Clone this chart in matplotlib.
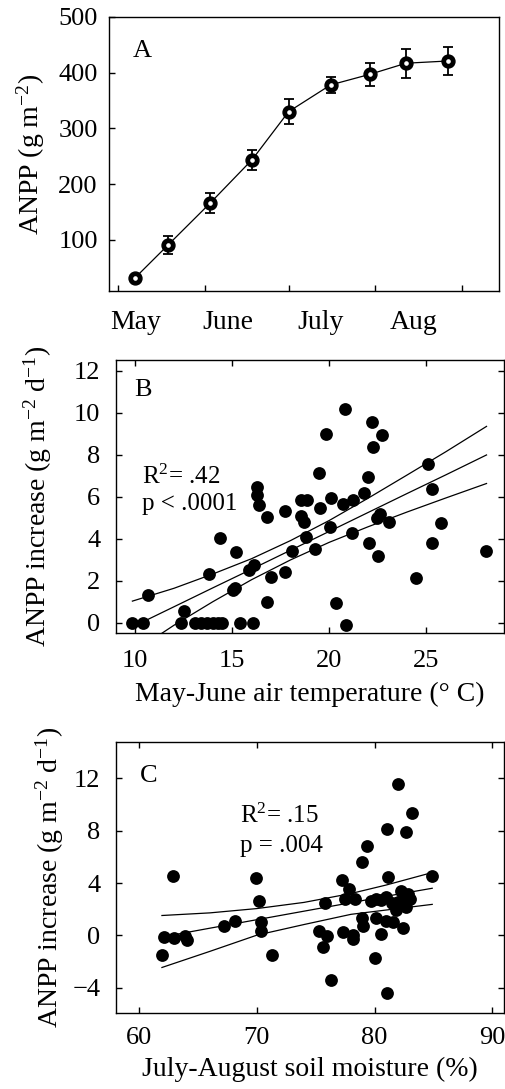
import matplotlib
matplotlib.use("Agg")
import matplotlib.pyplot as plt

plt.rcParams['font.family'] = ['Liberation Serif', 'DejaVu Serif']
plt.rcParams['mathtext.fontset'] = 'custom'
plt.rcParams['mathtext.rm'] = 'Liberation Serif'
plt.rcParams['mathtext.it'] = 'Liberation Serif:italic'

# panel A: seasonal ANPP (day of year)
day_a = [127, 139, 154, 169, 182, 197, 211, 224, 239]
anpp_a = [31, 91, 166, 244, 330, 378, 397, 417, 421]
err_a = [5, 16, 18, 18, 22, 14, 21, 26, 26]
month_start = [121, 152, 182, 213, 244]
month_names = ["May", "June", "July", "Aug"]

# panel B: May-June air temperature vs ANPP increase
temp_b = [9.86, 10.43, 10.65, 12.35, 12.52, 13.1, 13.4, 13.7, 14.0, 14.25,
          14.5, 13.83, 14.35, 15.03, 15.16, 15.2, 15.4, 15.85, 16.13, 16.05,
          16.27, 16.27, 16.39, 16.78, 16.78, 16.99, 17.7, 17.7, 18.06, 18.52,
          18.86, 18.55, 18.69, 18.78, 19.29, 19.46, 19.54, 19.83, 20.09, 20.05,
          20.34, 20.69, 20.79, 20.87, 21.2, 21.16, 21.79, 22.01, 22.05, 22.22,
          22.27, 22.44, 22.61, 22.53, 22.73, 23.07, 24.45, 25.08, 25.29, 25.3,
          25.76, 28.06]
anpp_b = [0, 0, 1.29, 0, 0.56, 0, 0, 0, 0, 0,
          0, 2.32, 4.01, 1.54, 1.65, 3.34, 0, 2.5, 2.75, 0,
          6.47, 6.05, 5.6, 5.01, 0.99, 2.18, 2.42, 5.31, 3.4, 5.82,
          5.82, 5.09, 4.77, 4.09, 3.5, 7.11, 5.47, 8.97, 5.92, 4.53,
          0.94, 5.65, 10.17, -0.1, 5.83, 4.25, 6.16, 6.95, 3.77, 9.55,
          8.38, 5.0, 5.15, 3.16, 8.94, 4.8, 2.1, 7.56, 6.36, 3.8,
          4.76, 3.4]
# fitted line and confidence band
fit_x_b = [9.86, 12, 14, 16, 18, 20, 22, 24, 26, 28.1]
fit_b = [-0.21, 0.75, 1.65, 2.54, 3.44, 4.34, 5.24, 6.14, 7.03, 7.98]
upper_b = [1.02, 1.63, 2.31, 3.04, 3.90, 4.86, 5.92, 7.02, 8.13, 9.34]
lower_b = [-1.44, -0.13, 0.99, 2.04, 2.98, 3.82, 4.56, 5.26, 5.93, 6.62]

# panel C: July-August soil moisture vs ANPP increase
moist_c = [61.92, 62.07, 62.83, 62.92, 63.85, 64.1, 67.22, 68.15, 69.93, 70.19,
           70.33, 70.33, 71.32, 75.31, 75.79, 76.0, 75.65, 76.27, 77.21, 77.86,
           77.49, 78.34, 77.35, 78.14, 78.14, 78.96, 79.33, 78.96, 79.05, 79.67,
           80.12, 80.1, 80.04, 80.52, 80.55, 80.97, 81.17, 81.09, 81.96, 81.03,
           80.97, 81.6, 81.45, 81.82, 81.96, 82.24, 82.5, 82.38, 82.67, 82.78,
           83.0, 83.15, 84.91, 82.7, 82.86]
anpp_c = [-1.48, -0.1, 4.57, -0.23, -0.05, -0.36, 0.71, 1.1, 4.42, 2.66,
          1.05, 0.33, -1.48, 0.33, 2.45, -0.03, -0.87, -3.37, 4.24, 3.55,
          2.78, 2.78, 0.23, 0.03, -0.3, 5.57, 6.79, 1.3, 0.71, 2.63,
          2.76, 1.3, -1.71, 0.08, 2.7, 2.96, 4.49, 8.12, 11.59, -4.39,
          1.1, 1.05, 2.45, 1.94, 2.58, 3.42, 2.4, 0.54, 7.86, 3.09,
          2.76, 9.34, 4.57, 2.2, 3.2]
fit_x_c = [61.93, 66, 70, 74, 78, 81, 84.9]
fit_c = [-0.12, 0.55, 1.2, 1.85, 2.5, 2.99, 3.6]
upper_c = [1.52, 1.72, 2.05, 2.52, 3.2, 3.85, 4.8]
lower_c = [-2.45, -1.22, 0.02, 0.83, 1.61, 1.94, 2.37]

fig = plt.figure(figsize=(5.05, 10.89), dpi=100)

TICK = 19
LAB = 20

def style(ax, allsides=True, ypad=11, xpad=12):
    for s in ax.spines.values():
        s.set_linewidth(1.0)
    ax.tick_params(direction='in', length=4, width=1, labelsize=TICK,
                   top=allsides, right=allsides)
    ax.tick_params(axis='y', pad=ypad)
    ax.tick_params(axis='x', pad=xpad)

# ---- A
axA = fig.add_axes([0.2158, 0.7328, 0.7723, 0.2516])
axA.plot(day_a, anpp_a, color='black', lw=0.9, zorder=2)
axA.errorbar(day_a, anpp_a, yerr=err_a, fmt='none', ecolor='black',
             elinewidth=1.3, capsize=3.5, capthick=1.3, zorder=3)
axA.plot(day_a, anpp_a, 'o', color='black', ms=9.3, zorder=4)
axA.plot(day_a, anpp_a, 'o', color='white', ms=2.3, zorder=5)
axA.set_xlim(117.8, 257.2)
axA.set_ylim(8, 500)
axA.set_yticks([100, 200, 300, 400, 500])
axA.set_xticks(month_start)
axA.set_xticklabels([])
label_days = [127.4, 160.3, 193.6, 226.8]
axA.set_xticks(label_days, minor=True)
axA.set_xticklabels(month_names, minor=True, fontsize=LAB)
style(axA, allsides=False, ypad=8)
axA.tick_params(axis='x', which='minor', length=0, pad=14)
axA.text(0.0615, 0.854, "A", transform=axA.transAxes, fontsize=19)
axA.text(-0.2, 0.5, "ANPP (g m$^{-2}$)", transform=axA.transAxes,
         rotation=90, ha='center', va='center', fontsize=LAB)

# ---- B
axB = fig.add_axes([0.2291, 0.4187, 0.7689, 0.2507])
axB.scatter(temp_b, anpp_b, s=85, color='black', zorder=3, linewidths=0)
axB.plot(fit_x_b, fit_b, color='black', lw=0.9)
axB.plot(fit_x_b, upper_b, color='black', lw=0.9)
axB.plot(fit_x_b, lower_b, color='black', lw=0.9)
axB.set_xlim(9, 29)
axB.set_ylim(-0.5, 12.5)
axB.set_xticks([10, 15, 20, 25])
axB.set_yticks([0, 2, 4, 6, 8, 10, 12])
style(axB, ypad=11, xpad=12)
axB.text(0.047, 0.868, "B", transform=axB.transAxes, fontsize=19)
axB.text(10.34, 6.6, "R$^2$= .42", fontsize=18)
axB.text(10.34, 5.36, "p < .0001", fontsize=18)
axB.set_xlabel("May-June air temperature (\u00b0 C)", fontsize=LAB)
axB.xaxis.set_label_coords(0.5, -0.18)
axB.text(-0.2, 0.5, "ANPP increase (g m$^{-2}$ d$^{-1}$)", transform=axB.transAxes,
         rotation=90, ha='center', va='center', fontsize=LAB)

# ---- C
axC = fig.add_axes([0.2291, 0.0701, 0.7689, 0.2489])
axC.scatter(moist_c, anpp_c, s=85, color='black', zorder=3, linewidths=0)
axC.plot(fit_x_c, fit_c, color='black', lw=0.9)
axC.plot(fit_x_c, upper_c, color='black', lw=0.9)
axC.plot(fit_x_c, lower_c, color='black', lw=0.9)
axC.set_xlim(58, 91)
axC.set_ylim(-5.9, 14.8)
axC.set_xticks([60, 70, 80, 90])
axC.set_yticks([-4, 0, 4, 8, 12])
style(axC, ypad=11, xpad=10)
axC.text(0.0626, 0.851, "C", transform=axC.transAxes, fontsize=19)
axC.text(68.57, 8.58, "R$^2$= .15", fontsize=18)
axC.text(68.57, 6.4, "p = .004", fontsize=18)
axC.set_xlabel("July-August soil moisture (%)", fontsize=LAB)
axC.xaxis.set_label_coords(0.5, -0.163)
axC.text(-0.169, 0.5, "ANPP increase (g m$^{-2}$ d$^{-1}$)", transform=axC.transAxes,
         rotation=90, ha='center', va='center', fontsize=LAB)

fig.savefig("out.png", dpi=100)
